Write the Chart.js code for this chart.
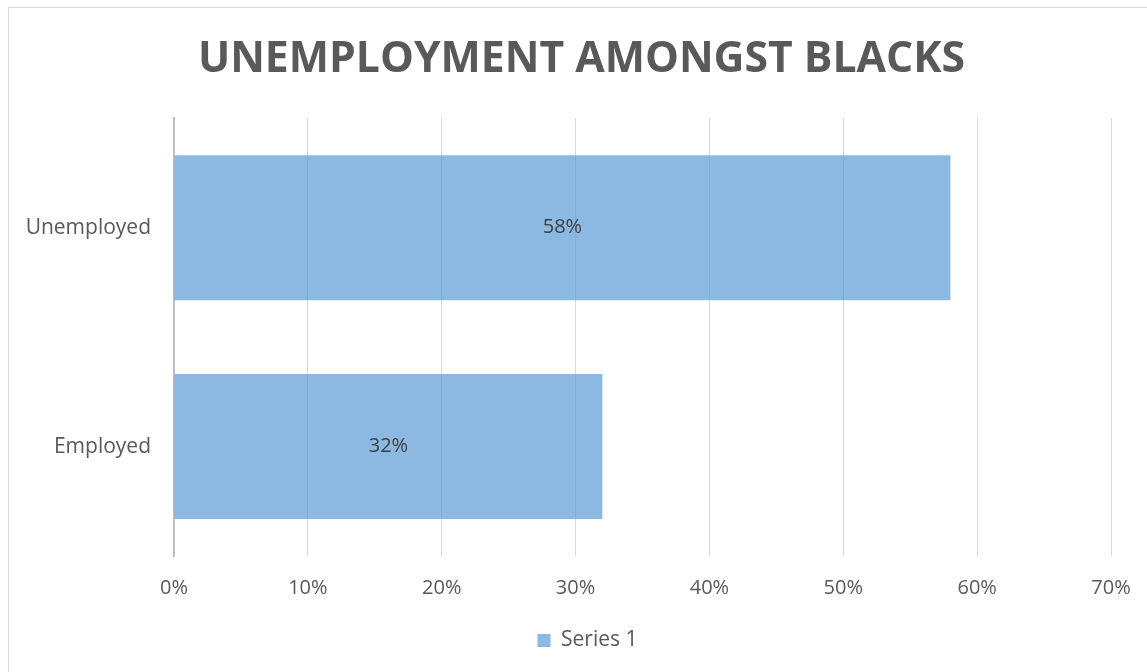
<!DOCTYPE html>
<html lang="en">
<head>
  <meta charset="UTF-8">
  <title>Unemployment Amongst Blacks</title>
  <script src="https://cdn.jsdelivr.net/npm/chart.js"></script>
  <style>
    html, body { margin: 0; padding: 0; background: #fff; overflow: hidden; }
    #wrap { position: relative; width: 1147px; height: 672px; }
    #frame { position: absolute; left: 8px; top: 7px; width: 1200px; height: 700px;
             border: 1px solid #d9d9d9; pointer-events: none; }
  </style>
</head>
<body>
<div id="wrap">
  <canvas id="chart" width="1147" height="672"></canvas>
  <div id="frame"></div>
</div>
<script>
  // values
  const categories = ['Unemployed', 'Employed'];
  const series1 = [0.58, 0.32];
  const seriesName = 'Series 1';
  const xTicks = [0, 0.1, 0.2, 0.3, 0.4, 0.5, 0.6, 0.7];

  const grey = '#595959';
  const font = '"Open Sans", sans-serif';

  // value labels in the middle of each bar
  const barLabels = {
    id: 'barLabels',
    afterDatasetsDraw(chart) {
      const ctx = chart.ctx;
      const meta = chart.getDatasetMeta(0);
      ctx.save();
      ctx.font = '20px ' + font;
      ctx.fillStyle = '#404040';
      ctx.textAlign = 'center';
      ctx.textBaseline = 'middle';
      meta.data.forEach((bar, i) => {
        const mid = (bar.x + bar.base) / 2;
        ctx.fillText(Math.round(series1[i] * 100) + '%', mid, bar.y);
      });
      ctx.restore();
    }
  };

  // title and legend sit centred on the outer frame, not on the plot
  const shiftBlocks = {
    id: 'shiftBlocks',
    afterLayout(chart) {
      if (chart.titleBlock) { chart.titleBlock.left += 26; chart.titleBlock.right += 26; }
      if (chart.legend) { chart.legend.left += 32; chart.legend.right += 32; }
    }
  };

  new Chart(document.getElementById('chart'), {
    type: 'bar',
    data: {
      labels: categories,
      datasets: [{
        label: seriesName,
        data: series1,
        backgroundColor: 'rgba(91, 155, 213, 0.7)',
        borderWidth: 0,
        categoryPercentage: 0.662,
        barPercentage: 1
      }]
    },
    options: {
      indexAxis: 'y',
      responsive: false,
      animation: false,
      layout: { padding: { left: 0, right: 36, top: 0, bottom: 11 } },
      plugins: {
        title: {
          display: true,
          text: 'UNEMPLOYMENT AMONGST BLACKS',
          color: grey,
          font: { family: font, size: 42.7, weight: 'bold' },
          padding: { top: 34, bottom: 33 }
        },
        legend: {
          position: 'bottom',
          labels: {
            color: grey,
            font: { family: font, size: 21 },
            boxWidth: 13,
            boxHeight: 13,
            padding: 10
          }
        },
        tooltip: { enabled: false }
      },
      scales: {
        x: {
          min: 0,
          max: 0.7,
          afterBuildTicks(scale) { scale.ticks = xTicks.map(v => ({ value: v })); },
          afterFit(scale) { scale.paddingLeft = 0; scale.paddingRight = 0; },
          ticks: {
            color: grey,
            font: { family: font, size: 20 },
            padding: 20,
            callback: v => Math.round(v * 100) + '%'
          },
          grid: { color: '#d9d9d9', lineWidth: 1, drawTicks: false },
          border: { display: false }
        },
        y: {
          afterFit(scale) { scale.width = 174; },
          ticks: {
            color: grey,
            font: { family: font, size: 21 },
            padding: 15
          },
          grid: { display: false },
          border: { color: '#bfbfbf', width: 2 }
        }
      }
    },
    plugins: [barLabels, shiftBlocks]
  });
</script>
</body>
</html>
